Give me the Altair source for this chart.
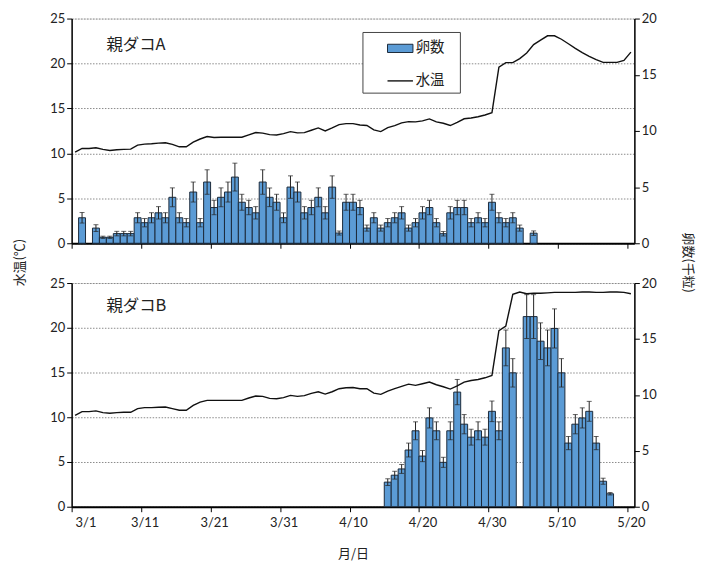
import json
import altair as alt
import pandas as pd

JP = "Noto Sans CJK JP"
NUM = "Lato"

day_index = list(range(81))
tick_days = [0, 10, 20, 30, 40, 50, 60, 70, 80]
tick_labels = ["3/1", "3/11", "3/21", "3/31", "4/10", "4/20", "4/30", "5/10", "5/20"]

temp_a = [10.15, 10.55, 10.55, 10.62, 10.45, 10.32, 10.4, 10.45, 10.47, 10.92,
          11.03, 11.07, 11.14, 11.18, 11.0, 10.73, 10.73, 11.25, 11.6, 11.87,
          11.76, 11.8, 11.8, 11.8, 11.8, 12.06, 12.32, 12.26, 12.09, 12.05,
          12.2, 12.42, 12.28, 12.31, 12.57, 12.83, 12.5, 12.83, 13.2, 13.31,
          13.31, 13.16, 13.1, 12.61, 12.42, 12.87, 13.09, 13.39, 13.53, 13.5,
          13.61, 13.83, 13.5, 13.35, 13.1, 13.45, 13.85, 13.94, 14.08, 14.27,
          14.53, 19.6, 20.1, 20.1, 20.54, 21.17, 22.1, 22.6, 23.08, 23.08,
          22.7, 22.2, 21.68, 21.2, 20.8, 20.43, 20.13, 20.13, 20.13, 20.35,
          21.27]

temp_b = [10.22, 10.63, 10.63, 10.71, 10.52, 10.44, 10.52, 10.56, 10.56, 10.97,
          11.08, 11.08, 11.11, 11.15, 10.97, 10.78, 10.78, 11.33, 11.7, 11.89,
          11.89, 11.89, 11.89, 11.89, 11.89, 12.15, 12.37, 12.33, 12.11, 12.07,
          12.19, 12.44, 12.33, 12.41, 12.67, 12.85, 12.59, 12.85, 13.19, 13.3,
          13.33, 13.19, 13.19, 12.7, 12.56, 12.93, 13.19, 13.45, 13.7, 13.56,
          13.74, 13.93, 13.63, 13.41, 13.15, 13.5, 13.93, 14.11, 14.22, 14.41,
          14.67, 19.67, 20.2, 23.74, 24.0, 23.8, 23.85, 23.85, 23.9, 23.95,
          23.95, 23.95, 23.95, 24.0, 24.0, 23.95, 23.95, 24.0, 24.0, 23.95,
          23.8]

egg_a_day = [1, 3, 4, 5, 6, 7, 8, 9, 10, 11, 12, 13, 14, 15, 16, 17, 18, 19, 20,
             21, 22, 23, 24, 25, 26, 27, 28, 29, 30, 31, 32, 33, 34, 35, 36, 37,
             38, 39, 40, 41, 42, 43, 44, 45, 46, 47, 48, 49, 50, 51, 52, 53, 54,
             55, 56, 57, 58, 59, 60, 61, 62, 63, 64, 66]
egg_a_val = [2.27, 1.35, 0.53, 0.53, 0.86, 0.86, 0.86, 2.27, 1.83, 2.27, 2.71,
             2.27, 4.09, 2.27, 1.83, 4.56, 1.83, 5.45, 3.18, 4.09, 4.56, 5.89,
             3.65, 3.18, 2.71, 5.45, 4.09, 3.65, 2.27, 5.0, 4.56, 2.71, 3.18,
             4.09, 2.71, 5.0, 0.91, 3.65, 3.65, 3.18, 1.35, 2.27, 1.35, 1.83,
             2.27, 2.71, 1.35, 1.83, 2.71, 3.18, 1.83, 0.85, 2.71, 3.18, 3.18,
             1.83, 2.27, 1.83, 3.65, 2.27, 1.83, 2.27, 1.35, 0.9]
egg_a_err = [0.47, 0.3, 0.1, 0.1, 0.2, 0.2, 0.2, 0.45, 0.37, 0.45, 0.55, 0.45,
             0.84, 0.45, 0.37, 0.89, 0.37, 1.09, 0.64, 0.84, 0.89, 1.24, 0.71,
             0.64, 0.55, 1.09, 0.83, 0.71, 0.44, 1.0, 0.89, 0.55, 0.64, 0.84,
             0.55, 1.0, 0.18, 0.71, 0.71, 0.64, 0.27, 0.45, 0.27, 0.37, 0.45,
             0.55, 0.27, 0.37, 0.55, 0.64, 0.37, 0.2, 0.55, 0.64, 0.64, 0.37,
             0.45, 0.37, 0.71, 0.45, 0.37, 0.45, 0.27, 0.2]

egg_b_day = [45, 46, 47, 48, 49, 50, 51, 52, 53, 54, 55, 56, 57, 58, 59, 60, 61,
             62, 63, 65, 66, 67, 68, 69, 70, 71, 72, 73, 74, 75, 76, 77]
egg_b_val = [2.2, 2.82, 3.38, 5.07, 6.79, 4.53, 7.94, 6.79, 3.97, 6.79, 10.25,
             7.38, 6.22, 6.79, 6.22, 8.53, 6.79, 14.2, 11.97, 17.0, 17.0, 14.8,
             14.2, 15.94, 11.97, 5.69, 7.38, 7.94, 8.53, 5.69, 2.28, 1.16]
egg_b_err = [0.3, 0.35, 0.4, 0.62, 0.8, 0.5, 0.9, 0.8, 0.45, 0.8, 1.13, 0.86,
             0.71, 0.8, 0.71, 0.92, 0.8, 1.6, 1.27, 1.96, 1.96, 1.64, 1.6, 1.75,
             1.27, 0.59, 0.86, 0.9, 0.89, 0.59, 0.27, 0.11]

BAR_FILL = "#5B9BD5"
BAR_STROKE = "#1c2a3a"
W = 566


def panel(name, temps, eday, evals, eerrs, bottom, show_legend, h, label_y):
    tdf = pd.DataFrame({"d": day_index, "t": temps, "s": ["水温"] * len(day_index)})
    edf = pd.DataFrame({"d": eday, "v": evals, "e": eerrs, "s": ["卵数"] * len(eday)})

    xs = alt.Scale(domain=[0, 81], nice=False, zero=False)
    label_expr = json.dumps(tick_labels, ensure_ascii=False) + "[round(datum.value/10)]"
    xkw = dict(values=tick_days, labels=bottom, labelExpr=label_expr, labelOffset=3.5,
               labelFont=NUM, labelFontSize=13, labelColor="#222", labelPadding=5,
               tickSize=5, tickColor="black", tickWidth=1,
               domainColor="black", domainWidth=2, grid=False)
    if bottom:
        xkw.update(title="月/日", titleFont=JP, titleFontSize=13, titleFontWeight="normal",
                   titleColor="#222", titlePadding=18)
    else:
        xkw.update(title="")
    xaxis = alt.Axis(**xkw)

    lkw = dict(orient="left", values=[0, 5, 10, 15, 20, 25], labelFont=NUM, labelFontSize=13,
               labelColor="#222", tickSize=5, tickColor="black", domainColor="black",
               domainWidth=1.5, grid=True, gridColor="#8a8a8a", gridDash=[1.5, 1.5],
               gridWidth=1)
    rkw = dict(orient="right", values=[0, 5, 10, 15, 20], labelFont=NUM, labelFontSize=13,
               labelColor="#222", tickSize=5, tickColor="black", domainColor="black",
               domainWidth=1.5, grid=False)
    if not bottom:
        lkw.update(title="水温(℃)", titleFont=JP, titleFontSize=13, titleFontWeight="normal",
                   titleColor="#222", titleX=-52, titleY=245, titleAngle=-90,
                   titleAlign="center", titleBaseline="middle")
        rkw.update(title="卵数(千粒)", titleFont=JP, titleFontSize=13, titleFontWeight="normal",
                   titleColor="#222", titleX=53, titleY=245, titleAngle=90,
                   titleAlign="center", titleBaseline="middle")
    else:
        lkw.update(title="")
        rkw.update(title="")

    yr = alt.Scale(domain=[0, 20], nice=False)
    yl = alt.Scale(domain=[0, 25], nice=False)

    if show_legend:
        fill_leg = alt.Legend(orient="none", legendX=317, legendY=16.5, title=None,
                              symbolType="M-1,-0.324H1V0.324H-1Z", symbolSize=655,
                              symbolStrokeColor=BAR_STROKE, symbolStrokeWidth=1,
                              labelFont=JP, labelFontSize=14.5, labelColor="#222",
                              labelOffset=2, padding=0)
        stroke_leg = alt.Legend(orient="none", legendX=317, legendY=49.2, title=None,
                                symbolType="stroke", symbolSize=655, symbolStrokeWidth=1.4,
                                labelFont=JP, labelFontSize=14.5, labelColor="#222",
                                labelOffset=2, padding=0)
    else:
        fill_leg = None
        stroke_leg = None

    base_e = alt.Chart(edf).transform_calculate(
        x0="datum.d", x1="datum.d + 1", xc="datum.d + 0.5", y0="0",
        lo="datum.v - datum.e", hi="datum.v + datum.e")

    bars = base_e.mark_rect(stroke=BAR_STROKE, strokeWidth=1, opacity=1).encode(
        x=alt.X("x0:Q", scale=xs, axis=xaxis),
        x2="x1:Q",
        y=alt.Y("v:Q", scale=yr, axis=alt.Axis(**rkw)),
        y2="y0:Q",
        fill=alt.Fill("s:N", scale=alt.Scale(domain=["卵数"], range=[BAR_FILL]), legend=fill_leg),
    )
    err = base_e.mark_errorbar(ticks={"size": 5, "color": "#222"}, color="#222",
                               thickness=1).encode(
        x=alt.X("xc:Q", scale=xs, axis=xaxis),
        y=alt.Y("lo:Q", scale=yr, axis=None),
        y2="hi:Q",
    )
    line = alt.Chart(tdf).transform_calculate(xc="datum.d + 0.5").mark_line(
        strokeWidth=1.4).encode(
        x=alt.X("xc:Q", scale=xs, axis=xaxis),
        y=alt.Y("t:Q", scale=yl, axis=alt.Axis(**lkw)),
        stroke=alt.Stroke("s:N", scale=alt.Scale(domain=["水温"], range=["#111"]), legend=stroke_leg),
    )
    txt = alt.Chart(pd.DataFrame({"label": [name]})).mark_text(
        align="left", baseline="middle", font=JP, fontSize=16.5, color="#222").encode(
        x=alt.value(35), y=alt.value(label_y), text="label:N")

    layers = []
    if show_legend:
        box = alt.Chart(pd.DataFrame({"k": [0]})).mark_rect(
            fill="white", stroke="#444", strokeWidth=1).encode(
            x=alt.value(293), x2=alt.value(391), y=alt.value(14), y2=alt.value(75))
        layers.append(box)
    layers += [bars, err, line, txt]
    return alt.layer(*layers).resolve_scale(y="independent", fill="independent",
                                            stroke="independent").properties(width=W, height=h)


top = panel("親ダコA", temp_a, egg_a_day, egg_a_val, egg_a_err, False, True, 226, 27)
bot = panel("親ダコB", temp_b, egg_b_day, egg_b_val, egg_b_err, True, False, 225, 23)

chart = alt.vconcat(top, bot, spacing=40, bounds="flush").properties(
    padding={"left": 5, "top": 2, "right": 5, "bottom": 5}
).configure_view(stroke=None).configure(background="white")

chart.save("out.html", embed_options={"renderer": "svg", "actions": False})
